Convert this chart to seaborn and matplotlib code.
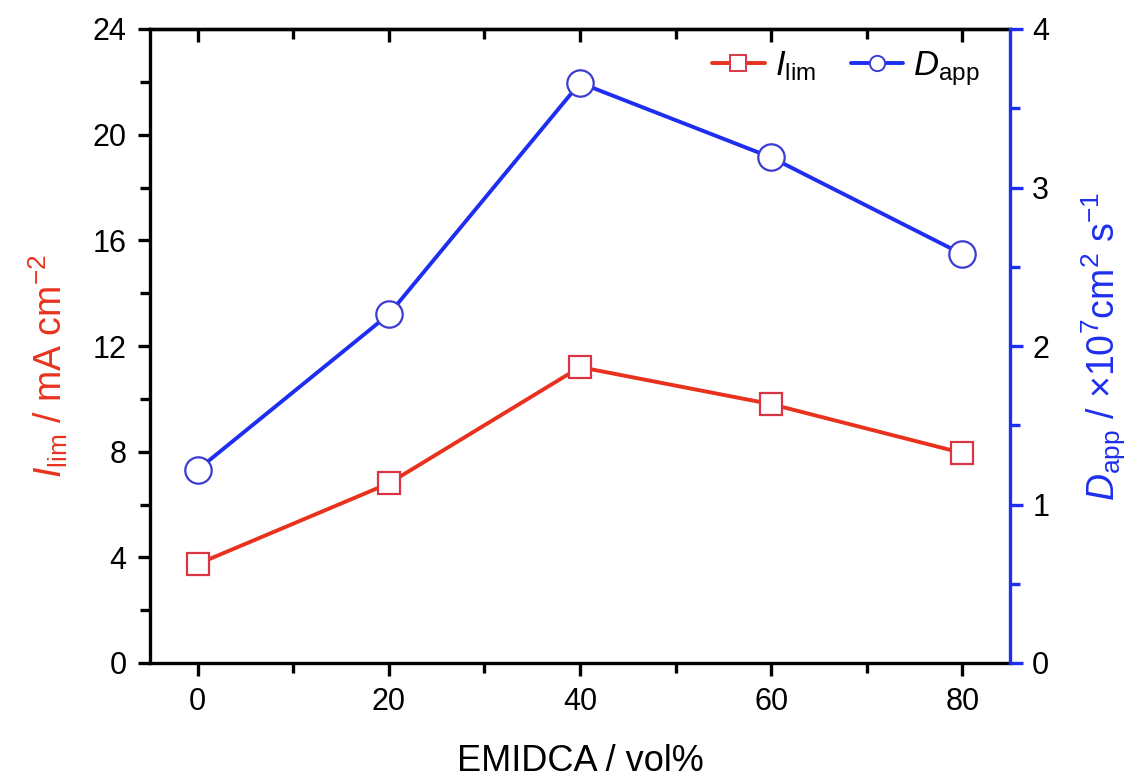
import matplotlib
matplotlib.use("Agg")
import matplotlib.pyplot as plt
import seaborn as sns
from matplotlib.ticker import MultipleLocator
from matplotlib.lines import Line2D

# Data
emidca = [0, 20, 40, 60, 80]
ilim = [3.75, 6.8, 11.2, 9.8, 7.95]
dapp = [1.22, 2.20, 3.66, 3.19, 2.58]

RED = "#E8321E"
RED_MK = "#DA3545"
BLUE = "#1E2EF0"
BLUE_MK = "#3C3CD2"

sns.set_theme(style="ticks")
plt.rcParams["font.family"] = ["Liberation Sans", "DejaVu Sans"]
plt.rcParams["mathtext.fontset"] = "custom"
plt.rcParams["mathtext.rm"] = "Liberation Sans"
plt.rcParams["mathtext.it"] = "Liberation Sans:italic"
plt.rcParams["mathtext.bf"] = "Liberation Sans:bold"
plt.rcParams["text.color"] = "black"
plt.rcParams["axes.labelcolor"] = "black"
plt.rcParams["xtick.color"] = "black"
plt.rcParams["ytick.color"] = "black"

fig = plt.figure(figsize=(11.46, 7.84), dpi=100)
ax = fig.add_axes([150/1146, 1-663/784, (1010-150)/1146, (663-29)/784])
ax2 = ax.twinx()

sns.lineplot(x=emidca, y=ilim, ax=ax, color=RED, lw=2.8, marker="s", markersize=16,
             markerfacecolor="white", markeredgecolor=RED_MK, markeredgewidth=1.6,
             legend=False)
sns.lineplot(x=emidca, y=dapp, ax=ax2, color=BLUE, lw=2.8, marker="o", markersize=19,
             markerfacecolor="white", markeredgecolor=BLUE_MK, markeredgewidth=1.6,
             legend=False)

ax.set_xlim(-5, 85)
ax.set_ylim(0, 24)
ax2.set_ylim(0, 4)

ax.xaxis.set_major_locator(MultipleLocator(20))
ax.xaxis.set_minor_locator(MultipleLocator(10))
ax.yaxis.set_major_locator(MultipleLocator(4))
ax.yaxis.set_minor_locator(MultipleLocator(2))
ax2.yaxis.set_major_locator(MultipleLocator(1))
ax2.yaxis.set_minor_locator(MultipleLocator(0.5))

for s in ["left", "bottom", "top"]:
    ax.spines[s].set_linewidth(2.4)
    ax.spines[s].set_color("black")
ax.spines["right"].set_visible(False)
for s in ["left", "bottom", "top"]:
    ax2.spines[s].set_visible(False)
ax2.spines["right"].set_visible(True)
ax2.spines["right"].set_color(BLUE)
ax2.spines["right"].set_linewidth(2.4)

ax.tick_params(axis="x", which="major", direction="out", length=9, width=2.4,
               labelsize=22, pad=8, colors="black", top=False)
ax.tick_params(axis="x", which="minor", direction="out", length=7, width=2.4, top=False)
ax.tick_params(axis="y", which="major", direction="out", length=9, width=2.4,
               labelsize=22, pad=8, colors="black")
ax.tick_params(axis="y", which="minor", direction="out", length=7, width=2.4)
ax2.tick_params(axis="y", which="major", direction="out", length=9, width=2.4,
                labelsize=22, pad=7, color=BLUE, labelcolor="black")
ax2.tick_params(axis="y", which="minor", direction="out", length=7, width=2.4, color=BLUE)

# top axis mirrored ticks pointing inward
top = ax.secondary_xaxis("top")
top.xaxis.set_major_locator(MultipleLocator(20))
top.xaxis.set_minor_locator(MultipleLocator(10))
top.tick_params(axis="x", which="major", direction="in", length=9, width=2.4,
                labeltop=False, colors="black")
top.tick_params(axis="x", which="minor", direction="in", length=7, width=2.4, labeltop=False)
top.spines["top"].set_linewidth(2.4)
top.spines["top"].set_color("black")

ax.set_xlabel("EMIDCA / vol%", fontsize=26, labelpad=20, color="black")
ax.set_ylabel(r"$\mathit{I}_{\mathrm{lim}}$ / mA cm$^{-2}$", fontsize=27, color=RED)
ax.yaxis.set_label_coords(-0.093, 0.468)
ax2.set_ylabel(r"$\mathit{D}_{\mathrm{app}}$ / ×10$^{7}$cm$^{2}$ s$^{-1}$", fontsize=27,
               color=BLUE, labelpad=22, rotation=90)

handles = [
    Line2D([], [], color=RED, lw=2.8, marker="s", markersize=11, markerfacecolor="white",
           markeredgecolor=RED_MK, markeredgewidth=1.4),
    Line2D([], [], color=BLUE, lw=2.8, marker="o", markersize=11, markerfacecolor="white",
           markeredgecolor=BLUE_MK, markeredgewidth=1.4),
]
labels = [r"$\mathit{I}_{\mathrm{lim}}$", r"$\mathit{D}_{\mathrm{app}}$"]
ax2.legend(handles, labels, loc="upper right", ncol=2, frameon=False, fontsize=25,
           handlelength=1.5, handletextpad=0.3, columnspacing=1.0,
           borderaxespad=0.1, bbox_to_anchor=(0.985, 0.995))

fig.savefig("out.png", dpi=100, facecolor="white")
